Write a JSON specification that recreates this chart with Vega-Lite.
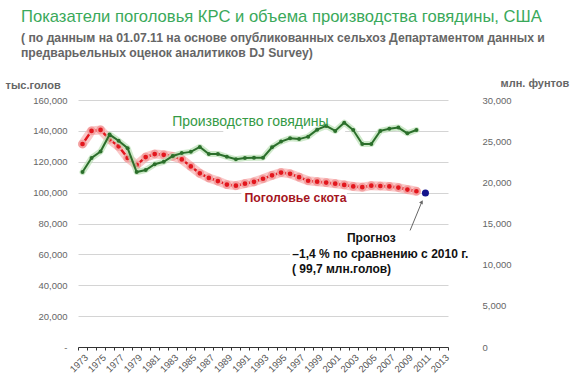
{
  "$schema": "https://vega.github.io/schema/vega-lite/v6.json",
  "width": 370,
  "height": 247,
  "autosize": {"type": "none"},
  "padding": {"left": 78, "top": 100, "right": 130, "bottom": 43},
  "background": "white",
  "config": {
    "view": {"stroke": null},
    "font": "Liberation Sans",
    "axis": {"labelFont": "Liberation Sans", "titleFont": "Liberation Sans", "labelOverlap": false}
  },
  "title": {
    "text": "Показатели поголовья КРС и объема производства говядины, США",
    "subtitle": ["( по данным на 01.07.11 на основе опубликованных сельхоз Департаментом данных и", "предварьельных оценок аналитиков DJ Survey)"],
    "anchor": "start",
    "frame": "group",
    "dx": -57,
    "offset": 18,
    "font": "Liberation Sans",
    "fontSize": 16.6,
    "fontWeight": "normal",
    "color": "#3aa95a",
    "subtitleFont": "Liberation Sans",
    "subtitleFontSize": 12.2,
    "subtitleFontWeight": "bold",
    "subtitleColor": "#666666",
    "subtitlePadding": 6,
    "subtitleLineHeight": 15
  },
  "datasets": {
    "cattle": [
      {"year": 1973, "head": 131500}, {"year": 1974, "head": 140000}, {"year": 1975, "head": 140600},
      {"year": 1976, "head": 134500}, {"year": 1977, "head": 130000}, {"year": 1978, "head": 122500},
      {"year": 1979, "head": 118000}, {"year": 1980, "head": 123000}, {"year": 1981, "head": 125000},
      {"year": 1982, "head": 124500}, {"year": 1983, "head": 123500}, {"year": 1984, "head": 121500},
      {"year": 1985, "head": 117000}, {"year": 1986, "head": 112500}, {"year": 1987, "head": 109500},
      {"year": 1988, "head": 107500}, {"year": 1989, "head": 105200}, {"year": 1990, "head": 104500},
      {"year": 1991, "head": 105800}, {"year": 1992, "head": 107000}, {"year": 1993, "head": 109000},
      {"year": 1994, "head": 111200}, {"year": 1995, "head": 113000}, {"year": 1996, "head": 112200},
      {"year": 1997, "head": 110000}, {"year": 1998, "head": 107700}, {"year": 1999, "head": 107100},
      {"year": 2000, "head": 106500}, {"year": 2001, "head": 105800}, {"year": 2002, "head": 105000},
      {"year": 2003, "head": 104000}, {"year": 2004, "head": 103500}, {"year": 2005, "head": 104500},
      {"year": 2006, "head": 104300}, {"year": 2007, "head": 104000}, {"year": 2008, "head": 103300},
      {"year": 2009, "head": 102000}, {"year": 2010, "head": 100900}
    ],
    "forecast": [{"year": 2011, "head": 99700}],
    "beef": [
      {"year": 1973, "lbs": 21250}, {"year": 1974, "lbs": 22950}, {"year": 1975, "lbs": 23750},
      {"year": 1976, "lbs": 25800}, {"year": 1977, "lbs": 25050}, {"year": 1978, "lbs": 24150},
      {"year": 1979, "lbs": 21250}, {"year": 1980, "lbs": 21500}, {"year": 1981, "lbs": 22200},
      {"year": 1982, "lbs": 22500}, {"year": 1983, "lbs": 23200}, {"year": 1984, "lbs": 23550},
      {"year": 1985, "lbs": 23700}, {"year": 1986, "lbs": 24300}, {"year": 1987, "lbs": 23450},
      {"year": 1988, "lbs": 23450}, {"year": 1989, "lbs": 23100}, {"year": 1990, "lbs": 22800},
      {"year": 1991, "lbs": 22950}, {"year": 1992, "lbs": 23000}, {"year": 1993, "lbs": 23000},
      {"year": 1994, "lbs": 24250}, {"year": 1995, "lbs": 24950}, {"year": 1996, "lbs": 25350},
      {"year": 1997, "lbs": 25250}, {"year": 1998, "lbs": 25550}, {"year": 1999, "lbs": 26400},
      {"year": 2000, "lbs": 26850}, {"year": 2001, "lbs": 26250}, {"year": 2002, "lbs": 27250},
      {"year": 2003, "lbs": 26350}, {"year": 2004, "lbs": 24650}, {"year": 2005, "lbs": 24650},
      {"year": 2006, "lbs": 26250}, {"year": 2007, "lbs": 26500}, {"year": 2008, "lbs": 26650},
      {"year": 2009, "lbs": 25950}, {"year": 2010, "lbs": 26350}
    ],
    "boxes": [
      {"bx1": 1988.6, "bx2": 2002.1, "by1": 136500, "by2": 151000},
      {"bx1": 1990.6, "bx2": 2002.3, "by1": 95000, "by2": 104000},
      {"bx1": 1996.0, "bx2": 2013.5, "by1": 55500, "by2": 64500}
    ],
    "notes": [
      {"label": "Производство говядины", "nx": 1991.6, "ny": 145600, "kind": "green"},
      {"label": "Поголовье скота", "nx": 1996.6, "ny": 96300, "kind": "red"},
      {"label": "Прогноз", "nx": 2005.0, "ny": 70600, "kind": "black"},
      {"label": "–1,4 % по сравнению с 2010 г.", "nx": 2006.0, "ny": 60300, "kind": "black"},
      {"label": "( 99,7 млн.голов)", "nx": 2001.7, "ny": 50500, "kind": "black"}
    ],
    "arrow": [{"ax": 2009.3, "ay": 75500, "bx": 2010.6, "by": 94000}]
  },
  "encoding": {
    "x": {
      "field": "year", "type": "quantitative",
      "scale": {"domain": [1972.5, 2013.5], "nice": false, "zero": false},
      "axis": {
        "title": null,
        "values": [1972.5,1973.5,1974.5,1975.5,1976.5,1977.5,1978.5,1979.5,1980.5,1981.5,1982.5,1983.5,1984.5,1985.5,1986.5,1987.5,1988.5,1989.5,1990.5,1991.5,1992.5,1993.5,1994.5,1995.5,1996.5,1997.5,1998.5,1999.5,2000.5,2001.5,2002.5,2003.5,2004.5,2005.5,2006.5,2007.5,2008.5,2009.5,2010.5,2011.5,2012.5,2013.5],
        "labelExpr": "(datum.value + 0.5) % 2 == 1 ? format(datum.value + 0.5, 'd') : ''",
        "labelOffset": 4.5,
        "labelAngle": -45,
        "labelAlign": "right",
        "labelBaseline": "top",
        "labelOverlap": false,
        "labelFontSize": 9.5,
        "labelColor": "#555555",
        "labelPadding": 2,
        "grid": false,
        "domainColor": "#333333",
        "domainWidth": 1,
        "tickColor": "#333333",
        "tickSize": 3
      }
    }
  },
  "layer": [
    {
      "data": {"name": "boxes"},
      "mark": {"type": "rect", "fill": "white", "stroke": null},
      "encoding": {
        "x": {"field": "bx1", "type": "quantitative"},
        "x2": {"field": "bx2"},
        "y": {"field": "by1", "type": "quantitative", "scale": {"domain": [0, 160000], "nice": false}, "axis": null},
        "y2": {"field": "by2"}
      }
    },
    {
      "data": {"name": "cattle"},
      "encoding": {
        "y": {
          "field": "head", "type": "quantitative",
          "scale": {"domain": [0, 160000], "nice": false},
          "axis": {
            "orient": "left",
            "values": [0, 20000, 40000, 60000, 80000, 100000, 120000, 140000, 160000],
            "labelExpr": "datum.value == 0 ? '-' : format(datum.value, ',')",
            "labelFontSize": 9.5,
            "labelColor": "#666666",
            "labelPadding": 11,
            "domain": false,
            "ticks": false,
            "grid": true,
            "gridColor": "#d4d4d4",
            "gridWidth": 1,
            "title": "тыс.голов",
            "titleAngle": 0,
            "titleAlign": "left",
            "titleBaseline": "bottom",
            "titleX": -73,
            "titleY": -10,
            "titleFontSize": 11,
            "titleFontWeight": "bold",
            "titleColor": "#666666"
          }
        }
      },
      "layer": [
        {"mark": {"type": "line", "stroke": "#f6a3a3", "strokeWidth": 9, "opacity": 0.6, "strokeCap": "round", "strokeJoin": "round"}},
        {"mark": {"type": "line", "stroke": "#e3161d", "strokeWidth": 2.5}},
        {"mark": {"type": "point", "filled": true, "fill": "#e3161d", "size": 45, "stroke": "#f3a0a0", "strokeWidth": 2, "opacity": 1}},
        {
          "data": {"name": "forecast"},
          "mark": {"type": "point", "filled": true, "fill": "#14148c", "size": 50, "opacity": 1}
        }
      ]
    },
    {
      "data": {"name": "beef"},
      "encoding": {
        "y": {
          "field": "lbs", "type": "quantitative",
          "scale": {"domain": [0, 30000], "nice": false},
          "axis": {
            "orient": "right",
            "values": [0, 5000, 10000, 15000, 20000, 25000, 30000],
            "labelExpr": "format(datum.value, ',')",
            "labelFontSize": 9.5,
            "labelColor": "#666666",
            "labelPadding": 34,
            "domain": false,
            "ticks": false,
            "grid": false,
            "title": "млн. фунтов",
            "titleAngle": 0,
            "titleAlign": "left",
            "titleBaseline": "bottom",
            "titleX": 52,
            "titleY": -12,
            "titleFontSize": 11,
            "titleFontWeight": "bold",
            "titleColor": "#666666"
          }
        }
      },
      "layer": [
        {"mark": {"type": "line", "stroke": "#b9dfb3", "strokeWidth": 6, "opacity": 0.7, "strokeCap": "round", "strokeJoin": "round"}},
        {"mark": {"type": "line", "stroke": "#2b6f2b", "strokeWidth": 2}},
        {"mark": {"type": "point", "filled": true, "fill": "#2b6f2b", "size": 16, "opacity": 1}}
      ]
    },
    {
      "data": {"name": "arrow"},
      "encoding": {
        "x": {"field": "ax", "type": "quantitative"},
        "y": {"field": "ay", "type": "quantitative", "scale": {"domain": [0, 160000], "nice": false}, "axis": null}
      },
      "layer": [
        {
          "mark": {"type": "rule", "stroke": "#666666", "strokeWidth": 1},
          "encoding": {"x2": {"field": "bx"}, "y2": {"field": "by"}}
        },
        {
          "mark": {"type": "point", "shape": "triangle-up", "filled": true, "fill": "#666666", "size": 18, "angle": 30, "opacity": 1},
          "encoding": {"x": {"field": "bx", "type": "quantitative"}, "y": {"field": "by", "type": "quantitative"}}
        }
      ]
    },
    {
      "data": {"name": "notes"},
      "encoding": {
        "x": {"field": "nx", "type": "quantitative"},
        "y": {"field": "ny", "type": "quantitative", "scale": {"domain": [0, 160000], "nice": false}, "axis": null},
        "text": {"field": "label"}
      },
      "layer": [
        {
          "transform": [{"filter": "datum.kind == 'green'"}],
          "mark": {"type": "text", "font": "Liberation Sans", "fontSize": 14, "fontWeight": "normal", "color": "#349a45", "align": "center", "baseline": "middle"}
        },
        {
          "transform": [{"filter": "datum.kind == 'red'"}],
          "mark": {"type": "text", "font": "Liberation Sans", "fontSize": 12.3, "fontWeight": "bold", "color": "#a5161e", "align": "center", "baseline": "middle"}
        },
        {
          "transform": [{"filter": "datum.kind == 'black'"}],
          "mark": {"type": "text", "font": "Liberation Sans", "fontSize": 12, "fontWeight": "bold", "color": "#111111", "align": "center", "baseline": "middle"}
        }
      ]
    }
  ],
  "resolve": {"scale": {"y": "independent"}}
}
